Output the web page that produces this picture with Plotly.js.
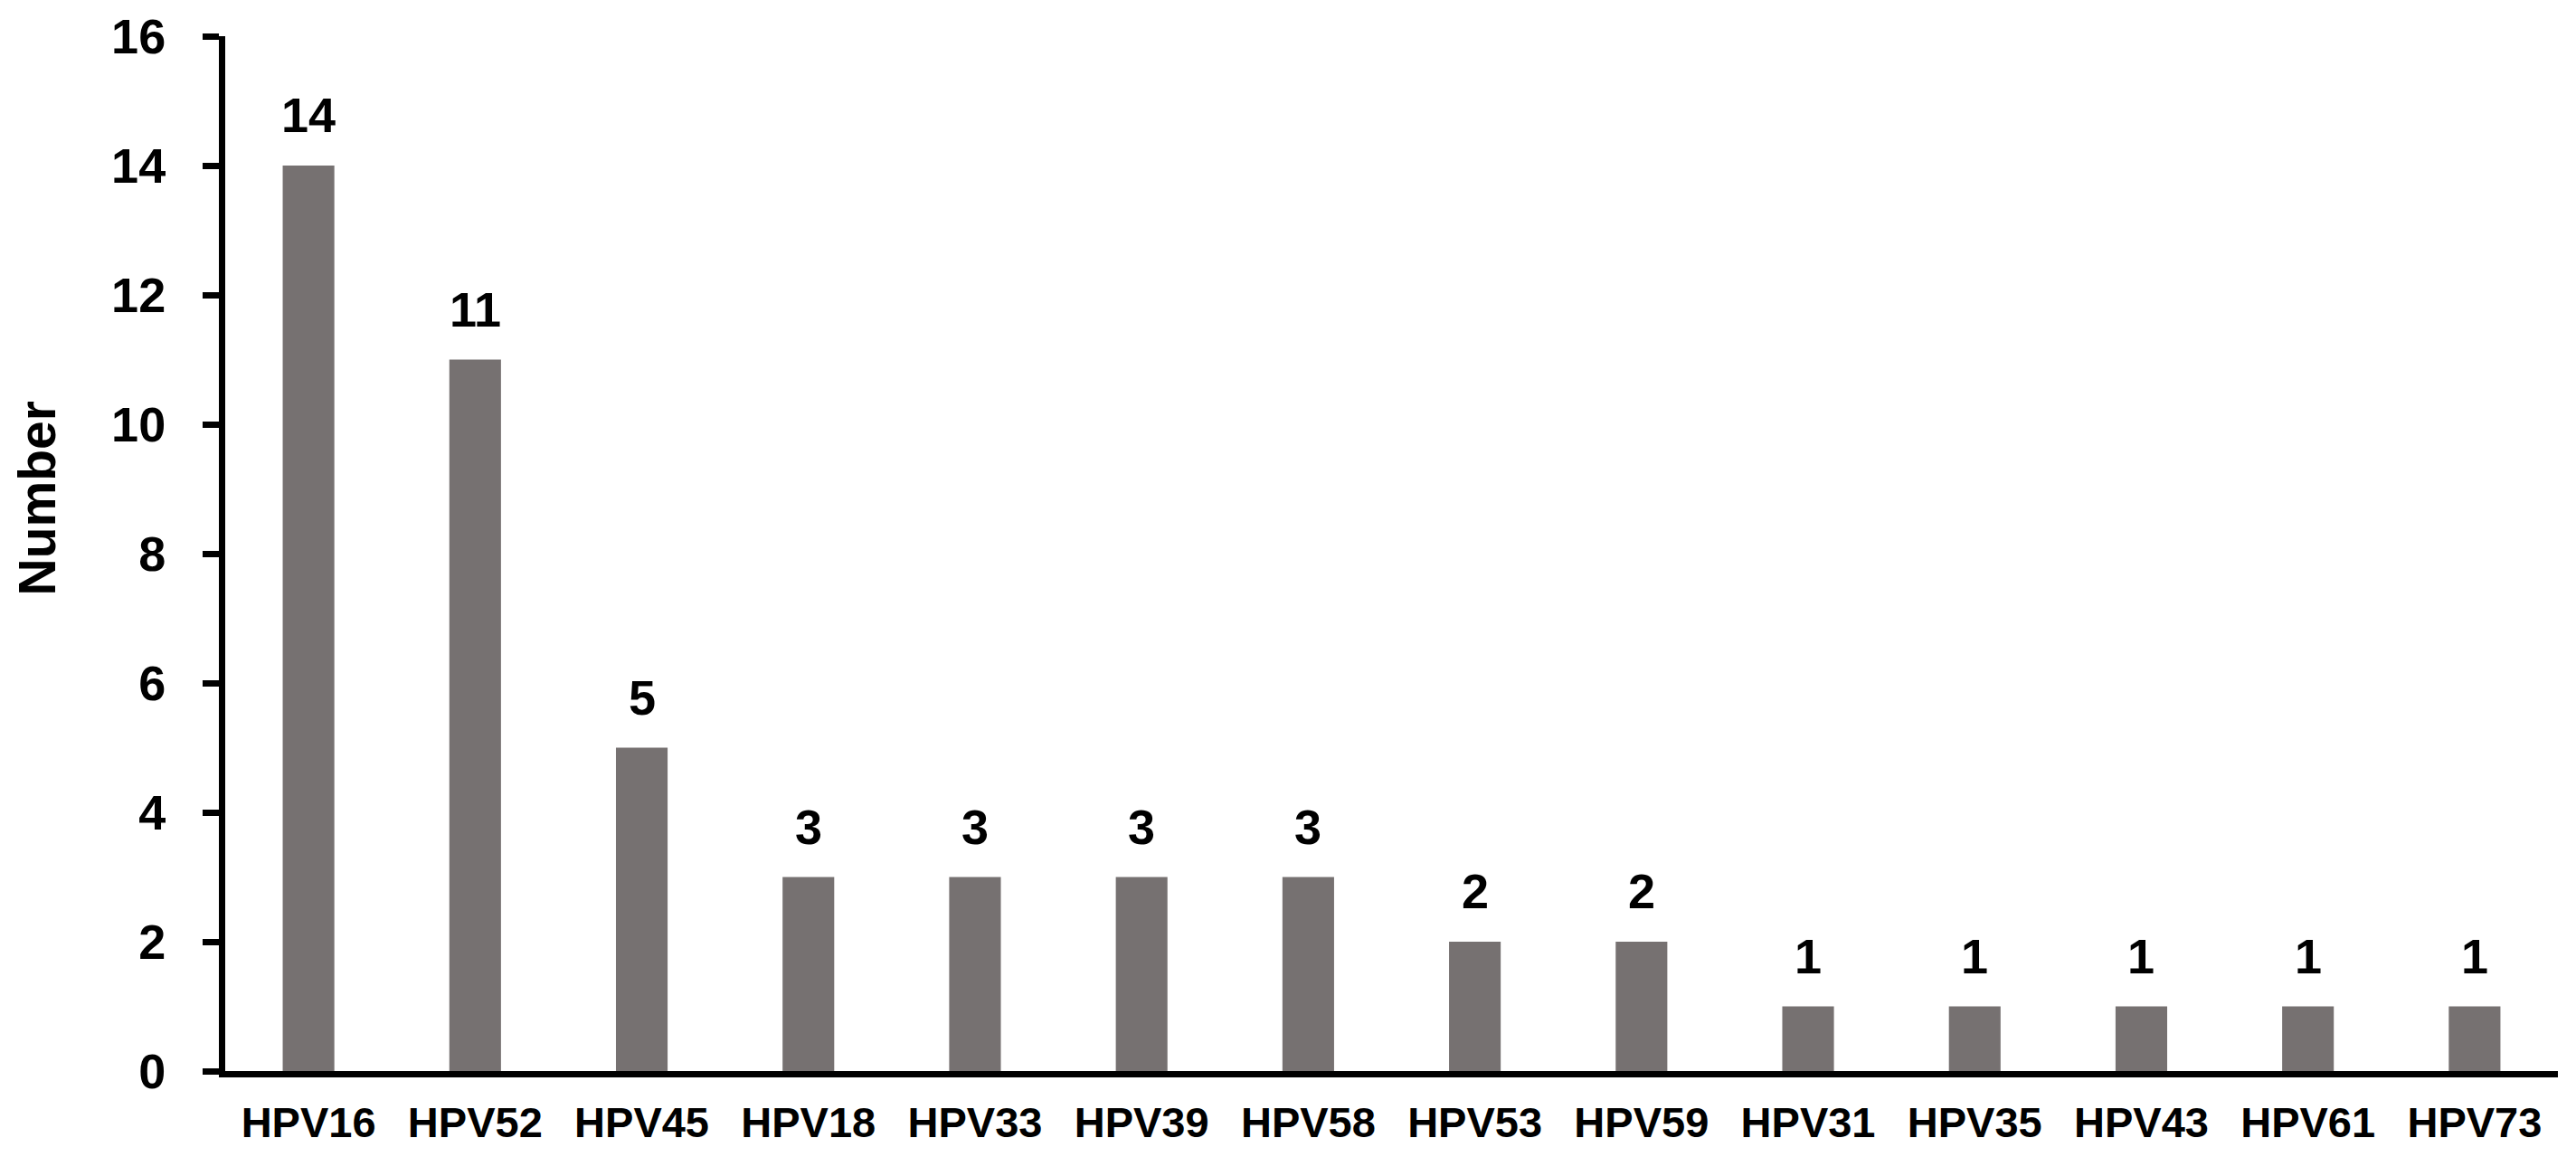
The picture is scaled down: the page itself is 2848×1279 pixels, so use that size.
<!DOCTYPE html>
<html>
<head>
<meta charset="utf-8">
<script src="https://cdn.plot.ly/plotly-3.0.1.min.js"></script>
<style>
  html, body { margin: 0; padding: 0; background: #ffffff; }
  #chart { width: 2848px; height: 1279px; }
</style>
</head>
<body>
<div id="chart"></div>
<script>
// HPV genotype counts
const genotypes = ['HPV16', 'HPV52', 'HPV45', 'HPV18', 'HPV33', 'HPV39', 'HPV58',
                   'HPV53', 'HPV59', 'HPV31', 'HPV35', 'HPV43', 'HPV61', 'HPV73'];
const counts = [14, 11, 5, 3, 3, 3, 3, 2, 2, 1, 1, 1, 1, 1];
const yTicks = [0, 2, 4, 6, 8, 10, 12, 14, 16];
const yTitle = 'Number';

const FONT = 'Arial, "Liberation Sans", sans-serif';
const barColor = '#767171';

const data = [{
    type: 'bar',
    x: genotypes,
    y: counts,
    marker: { color: barColor, line: { width: 0 } },
    hoverinfo: 'x+y'
}];

// value labels above each bar
const labels = genotypes.map((g, i) => ({
    x: g,
    y: counts[i],
    text: String(counts[i]),
    showarrow: false,
    xanchor: 'center',
    yanchor: 'bottom',
    yshift: 24,
    font: { family: FONT, size: 54, color: '#000000', weight: 'bold' }
}));

// y title sits a bit above the middle of the axis, so it is an annotation
labels.push({
    xref: 'paper', yref: 'paper',
    x: -0.0806, y: 0.553,
    xanchor: 'center', yanchor: 'middle',
    textangle: -90,
    text: yTitle,
    showarrow: false,
    font: { family: FONT, size: 57, color: '#000000', weight: 'bold' }
});

const layout = {
    width: 2848,
    height: 1279,
    margin: { l: 249, r: 20, t: 40, b: 95 },
    paper_bgcolor: '#ffffff',
    plot_bgcolor: '#ffffff',
    showlegend: false,
    bargap: 0.69,
    font: { family: FONT, color: '#000000', weight: 'bold' },
    xaxis: {
        type: 'category',
        showline: true,
        linecolor: '#000000',
        linewidth: 7,
        ticks: '',
        showgrid: false,
        zeroline: false,
        ticklabelstandoff: 10,
        tickfont: { family: FONT, size: 47, color: '#000000', weight: 'bold' }
    },
    yaxis: {
        range: [0, 16],
        tickvals: yTicks,
        ticktext: yTicks.map(String),
        showline: true,
        linecolor: '#000000',
        linewidth: 7,
        ticks: 'outside',
        ticklen: 18,
        tickwidth: 7,
        tickcolor: '#000000',
        showgrid: false,
        zeroline: false,
        ticklabelstandoff: 30,
        tickfont: { family: FONT, size: 54, color: '#000000', weight: 'bold' }
    },
    annotations: labels
};

Plotly.newPlot('chart', data, layout, { displayModeBar: false, staticPlot: true });
</script>
</body>
</html>
